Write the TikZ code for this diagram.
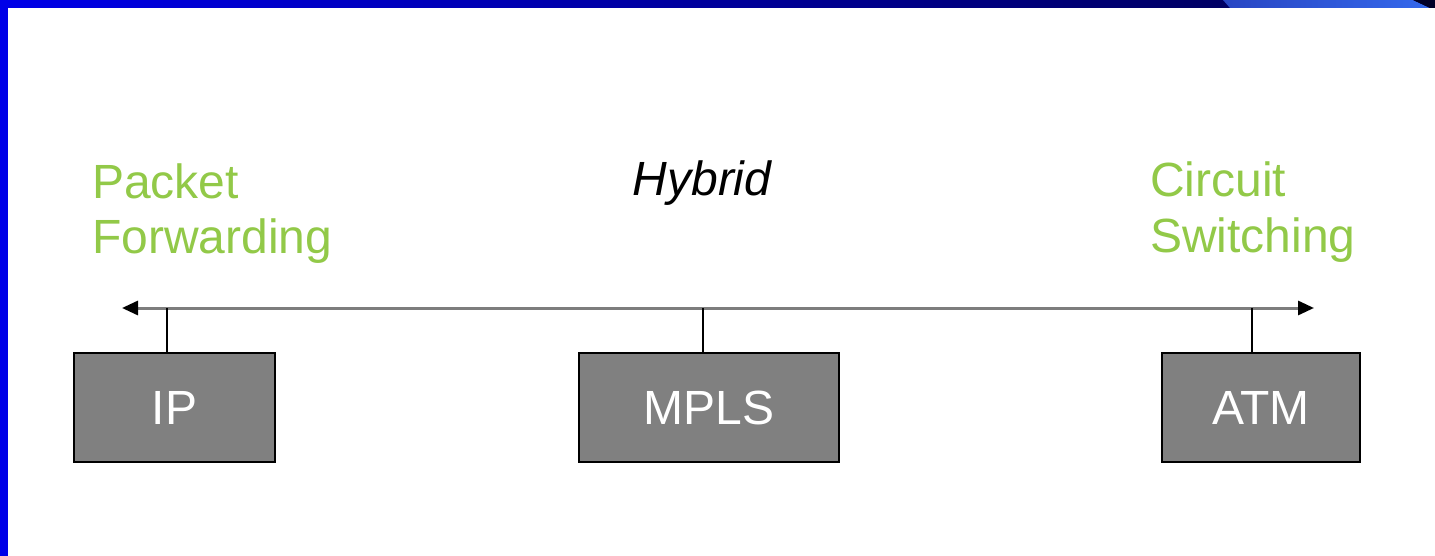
\documentclass[tikz,border=0pt]{standalone}
\usepackage{fontspec}
\setmainfont{Liberation Sans}
\usetikzlibrary{arrows.meta}
\definecolor{leafgreen}{RGB}{146,201,72}
\definecolor{boxgray}{RGB}{128,128,128}
\definecolor{axisgray}{RGB}{125,125,125}
\definecolor{bandblue}{RGB}{0,0,232}
\definecolor{banddark}{RGB}{0,0,100}
\definecolor{tabA}{RGB}{40,70,195}
\definecolor{tabB}{RGB}{52,104,236}
\tikzset{
  bigfont/.style={font=\fontsize{48}{56}\selectfont},
  greenlabel/.style={bigfont, text=leafgreen, inner sep=0pt, anchor=base west},
  techbox/.style={draw=black, line width=1.5pt, fill=boxgray, text=white,
    bigfont, minimum height=109pt, inner sep=0pt},
  axisline/.style={draw=axisgray, line width=3pt,
    arrows={Triangle[length=16pt,width=14pt,color=black]-Triangle[length=16pt,width=14pt,color=black]}},
  tickline/.style={draw=black, line width=1.6pt},
}
\begin{document}
\begin{tikzpicture}[x=1pt,y=-1pt]
  % page and frame bands
  \fill[white] (0,0) rectangle (1435,556);
  \useasboundingbox (0,0) rectangle (1435,556);
  \shade[left color=bandblue, right color=banddark] (0,0) rectangle (1225,8);
  \fill[banddark] (1220,0) rectangle (1435,8);
  \shade[left color=tabA, right color=tabB] (1223,0) -- (1413,0) -- (1430,8) -- (1230,8) -- cycle;
  \fill[black!60!banddark] (1413,0) -- (1435,0) -- (1435,8) -- (1430,8) -- cycle;
  \fill[bandblue] (0,0) rectangle (8,556);

  % captions
  \node[greenlabel] (pkt1) at (92,199) {Packet};
  \node[greenlabel] (pkt2) at (92,254) {Forwarding};
  \node[inner sep=0pt, anchor=base, font=\fontsize{48}{56}\selectfont\itshape] (hyb) at (702,196) {Hybrid};
  \node[greenlabel] (cir1) at (1150,197) {Circuit};
  \node[greenlabel] (cir2) at (1150,252) {Switching};

  % technology boxes
  \node[techbox, minimum width=201pt] (ip)   at (174.5,407.5) {IP};
  \node[techbox, minimum width=260pt] (mpls) at (709,407.5)   {MPLS};
  \node[techbox, minimum width=198pt] (atm)  at (1261,407.5)  {ATM};

  % spectrum axis
  \coordinate (axl) at (122,308);
  \coordinate (axr) at (1314,308);
  \draw[axisline] (axl) -- (axr);

  % ticks from the axis down to each box
  \coordinate (tip)   at (167,308);
  \coordinate (tmpls) at (703,308);
  \coordinate (tatm)  at (1252,308);
  \draw[tickline] (tip)   -- (tip |- ip.north);
  \draw[tickline] (tmpls) -- (tmpls |- mpls.north);
  \draw[tickline] (tatm)  -- (tatm |- atm.north);
\end{tikzpicture}
\end{document}
